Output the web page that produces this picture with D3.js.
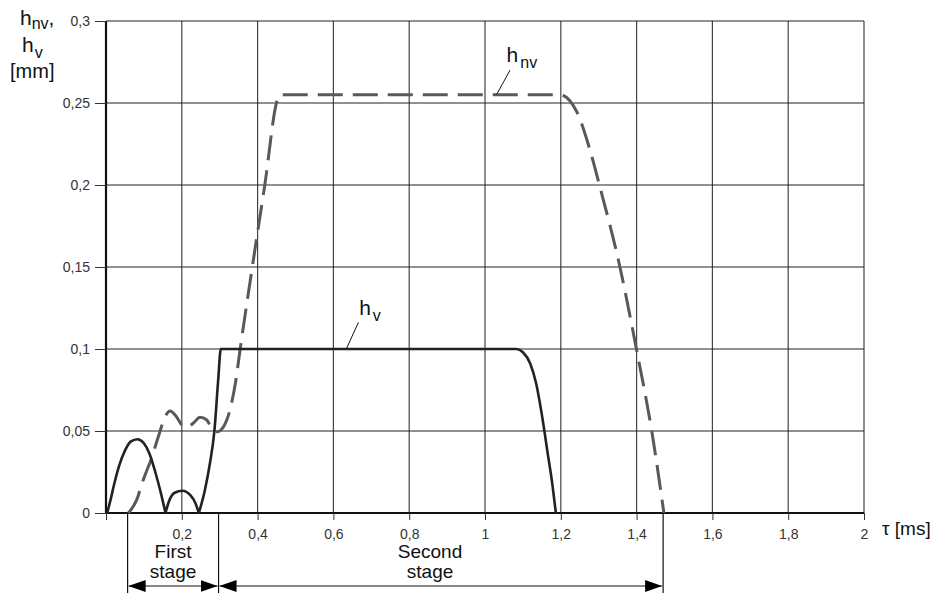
<!DOCTYPE html>
<html>
<head>
<meta charset="utf-8">
<script src="https://cdn.jsdelivr.net/npm/d3@7"></script>
<style>
  body { margin: 0; background: #fff; }
  svg { display: block; font-family: "Liberation Sans", Arial, sans-serif; }
</style>
</head>
<body>
<div id="chart"></div>
<script>
// tick values of both axes
var xTicks = [0.2, 0.4, 0.6, 0.8, 1, 1.2, 1.4, 1.6, 1.8, 2];
var yTicks = [0, 0.05, 0.1, 0.15, 0.2, 0.25, 0.3];

// h_v (solid), split where it touches zero so the cusps stay sharp
var hvSegments = [
  [[0.003, 0], [0.012, 0.008], [0.022, 0.018], [0.035, 0.029], [0.05, 0.038],
   [0.065, 0.0435], [0.083, 0.045], [0.1, 0.0425], [0.115, 0.036], [0.13, 0.025],
   [0.145, 0.012], [0.157, 0]],
  [[0.157, 0], [0.166, 0.007], [0.18, 0.0122], [0.202, 0.0136], [0.222, 0.011],
   [0.236, 0.006], [0.245, 0]],
  [[0.245, 0], [0.261, 0.014], [0.274, 0.030], [0.286, 0.050], [0.296, 0.081],
   [0.303, 0.1], [0.7, 0.1], [1.083, 0.1], [1.10, 0.098], [1.119, 0.0913],
   [1.135, 0.079], [1.15, 0.060], [1.165, 0.037], [1.178, 0.017], [1.187, 0]]
];

// h_nv (dashed)
var hnvTau = [0.059, 0.081, 0.098, 0.121, 0.138, 0.156, 0.169, 0.185, 0.200, 0.213,
  0.230, 0.248, 0.266, 0.279, 0.294, 0.310, 0.327, 0.342, 0.354, 0.386, 0.419, 0.452,
  0.458, 0.8, 1.198, 1.242, 1.277, 1.303, 1.356, 1.400, 1.440, 1.472];
var hnvVal = [0, 0.008, 0.020, 0.034, 0.0465, 0.0587, 0.0622, 0.059, 0.0537, 0.0523,
  0.0547, 0.0584, 0.0567, 0.0516, 0.0496, 0.0526, 0.0628, 0.080, 0.1, 0.15, 0.2, 0.252,
  0.255, 0.255, 0.255, 0.2447, 0.2213, 0.199, 0.150, 0.0994, 0.05, 0];

// stage boundaries on the time axis
var stageBounds = [0.057, 0.297, 1.47];
var stageNames = [["First", "stage"], ["Second", "stage"]];

var width = 943, height = 599;
var margin = {left: 106, top: 21};
var plotW = 758, plotH = 492;

var svg = d3.select("#chart").append("svg")
  .attr("width", width)
  .attr("height", height);

var defs = svg.append("defs");
defs.append("marker")
  .attr("id", "arrow")
  .attr("viewBox", "0 0 17 12")
  .attr("refX", 17).attr("refY", 6)
  .attr("markerWidth", 17).attr("markerHeight", 12)
  .attr("markerUnits", "userSpaceOnUse")
  .attr("orient", "auto-start-reverse")
  .append("path")
  .attr("d", "M0,0L17,6L0,12Z")
  .attr("fill", "#000");

var g = svg.append("g")
  .attr("transform", "translate(" + margin.left + "," + margin.top + ")");

var x = d3.scaleLinear().domain([0, 2]).range([0, plotW]);
var y = d3.scaleLinear().domain([0, 0.3]).range([plotH, 0]);

var fmt = function(d) { return String(d).replace(".", ","); };

// grid
g.selectAll(".vgrid")
  .data(xTicks)
  .enter().append("line")
  .attr("x1", function(d) { return x(d); })
  .attr("x2", function(d) { return x(d); })
  .attr("y1", 0).attr("y2", plotH)
  .attr("stroke", "#444").attr("stroke-width", 1.2);

g.selectAll(".hgrid")
  .data(yTicks.slice(1))
  .enter().append("line")
  .attr("x1", 0).attr("x2", plotW)
  .attr("y1", function(d) { return y(d); })
  .attr("y2", function(d) { return y(d); })
  .attr("stroke", "#222").attr("stroke-width", 1);

// axes
var xAxis = g.append("g")
  .attr("transform", "translate(0," + plotH + ")")
  .call(d3.axisBottom(x).tickValues([0].concat(xTicks)).tickSize(7).tickPadding(9)
    .tickFormat(function(d) { return d === 0 ? "" : fmt(d); }));

var yAxis = g.append("g")
  .call(d3.axisLeft(y).tickValues(yTicks).tickSize(11).tickPadding(5).tickFormat(fmt));

[xAxis, yAxis].forEach(function(a) {
  a.select(".domain").attr("stroke", "#111").attr("stroke-width", 2.2);
  a.selectAll(".tick line").attr("stroke", "#333");
  a.selectAll("text").attr("fill", "#333").style("font-size", "14px")
    .style("font-family", "'Liberation Sans', Arial, sans-serif");
});
xAxis.select(".domain").attr("d", "M0,0H" + plotW);
yAxis.select(".domain").attr("d", "M0,0V" + plotH);

// curves
var line = d3.line()
  .x(function(d) { return x(d[0]); })
  .y(function(d) { return y(d[1]); })
  .curve(d3.curveMonotoneX);

var hnvPoints = hnvTau.map(function(t, i) { return [t, hnvVal[i]]; });

g.append("path")
  .attr("d", line(hnvPoints))
  .attr("fill", "none")
  .attr("stroke", "#595959")
  .attr("stroke-width", 3)
  .attr("stroke-dasharray", "25,10");

g.append("path")
  .attr("d", hvSegments.map(function(s) { return line(s); }).join(""))
  .attr("fill", "none")
  .attr("stroke", "#222")
  .attr("stroke-width", 2.6)
  .attr("stroke-linejoin", "round");

// curve labels with leader lines
function curveLabel(tau, h, sub, from, to) {
  var t = g.append("text")
    .attr("x", x(tau)).attr("y", y(h))
    .style("font-size", "21px").attr("fill", "#111");
  t.append("tspan").text("h");
  t.append("tspan").attr("dy", 6).attr("dx", 2).style("font-size", "16px").text(sub);
  g.append("line")
    .attr("x1", x(from[0])).attr("y1", y(from[1]))
    .attr("x2", x(to[0])).attr("y2", y(to[1]))
    .attr("stroke", "#111").attr("stroke-width", 1);
}
curveLabel(0.668, 0.1207, "v", [0.666, 0.1162], [0.634, 0.1]);
curveLabel(1.057, 0.275, "nv", [1.066, 0.270], [1.031, 0.2553]);

// stage markers below the axis
var arrowY = plotH + 73;
g.selectAll(".stageLine")
  .data(stageBounds)
  .enter().append("line")
  .attr("x1", function(d) { return x(d); })
  .attr("x2", function(d) { return x(d); })
  .attr("y1", plotH).attr("y2", plotH + 80)
  .attr("stroke", "#111").attr("stroke-width", 1.2);

stageNames.forEach(function(name, i) {
  var a = x(stageBounds[i]), b = x(stageBounds[i + 1]);
  g.append("line")
    .attr("x1", a + 1).attr("x2", b - 1)
    .attr("y1", arrowY).attr("y2", arrowY)
    .attr("stroke", "#111").attr("stroke-width", 1.2)
    .attr("marker-start", "url(#arrow)")
    .attr("marker-end", "url(#arrow)");
  var cx = i === 0 ? (a + b) / 2 : x(0.855);
  name.forEach(function(word, j) {
    g.append("text")
      .attr("x", cx).attr("y", plotH + 45 + j * 20)
      .attr("text-anchor", "middle")
      .style("font-size", "19px").attr("fill", "#111")
      .text(word);
  });
});

// axis titles
g.append("text")
  .attr("x", plotW + 18).attr("y", plotH + 22)
  .style("font-size", "19px").attr("fill", "#111")
  .text("τ [ms]");

var yt = svg.append("g").attr("fill", "#111");
var l1 = yt.append("text").attr("x", 20).attr("y", 25).style("font-size", "21px");
l1.append("tspan").text("h");
l1.append("tspan").attr("dy", 4).style("font-size", "16px").text("nv");
l1.append("tspan").attr("dy", -4).text(",");
var l2 = yt.append("text").attr("x", 22).attr("y", 52).style("font-size", "21px");
l2.append("tspan").text("h");
l2.append("tspan").attr("dy", 6).attr("dx", 1).style("font-size", "16px").text("v");
yt.append("text").attr("x", 10).attr("y", 78).style("font-size", "20px").text("[mm]");
</script>
</body>
</html>
